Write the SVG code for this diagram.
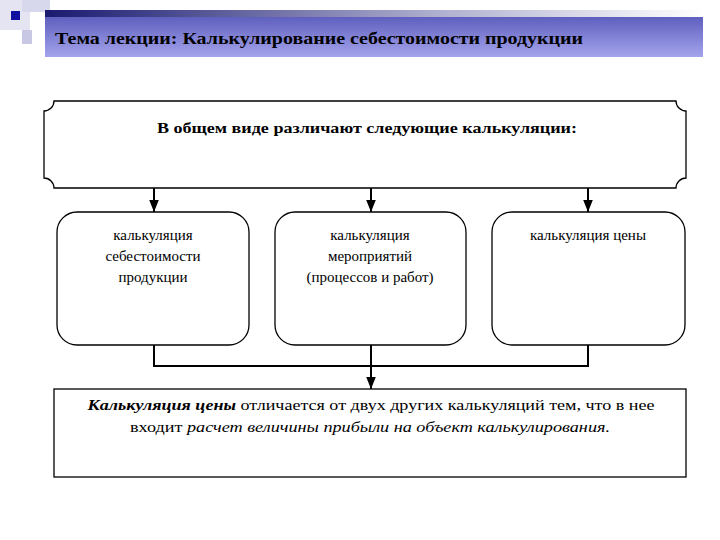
<svg xmlns="http://www.w3.org/2000/svg" width="720" height="540" viewBox="0 0 720 540">
<defs>
<linearGradient id="bar" x1="0" y1="0" x2="0" y2="1"><stop offset="0" stop-color="#5f5fbf"/><stop offset="1" stop-color="#a4a4ec"/></linearGradient>
<linearGradient id="strip" x1="0" y1="0" x2="1" y2="0"><stop offset="0" stop-color="#1a1a70"/><stop offset="0.6" stop-color="#b0b0d0"/><stop offset="1" stop-color="#ffffff"/></linearGradient>
<marker id="ar" viewBox="0 0 10 10" refX="10" refY="5" markerWidth="6" markerHeight="6" orient="auto"><path d="M0,1 L10,5 L0,9 z" fill="#000"/></marker>
</defs>
<style>
.box{fill:#fff;stroke:#000;stroke-width:1.3}
text{font-family:'Liberation Serif','DejaVu Serif',serif}
.t{font-size:15px;text-anchor:middle;fill:#000}
.c{fill:none;stroke:#000;stroke-width:2}
</style>
<rect width="720" height="540" fill="#fff"/>
<g id="header">
<rect x="0" y="0" width="30" height="30" fill="#e4e4f2"/>
<rect x="22" y="0" width="28" height="12" fill="#d8d8ec"/>
<rect x="22" y="30" width="10" height="14" fill="#c8c8e4"/>
<rect x="11" y="11" width="9" height="9" fill="#1010a0"/>
<rect x="45" y="10" width="658" height="7" fill="url(#strip)"/>
<rect x="45" y="17" width="658" height="40" fill="url(#bar)"/>
<text x="55" y="44" font-size="17" font-weight="bold" fill="#000" textLength="528" lengthAdjust="spacingAndGlyphs">Тема лекции: Калькулирование себестоимости продукции</text>
</g>
<g id="top">
<path class="box" d="M54,101 H676 A10,10 0 0 0 686,111 V178 A10,10 0 0 0 676,188 H54 A10,10 0 0 0 44,178 V111 A10,10 0 0 0 54,101 Z"/>
<text class="t" x="367" y="133" font-weight="bold" textLength="420" lengthAdjust="spacingAndGlyphs">В общем виде различают следующие калькуляции:</text>
</g>
<g id="n1"><rect class="box" x="57" y="212" width="192" height="133" rx="20"/>
<text class="t" x="153" y="240">калькуляция</text><text class="t" x="153" y="261">себестоимости</text><text class="t" x="153" y="282">продукции</text></g>
<g id="n2"><rect class="box" x="275" y="212" width="191" height="133" rx="20"/>
<text class="t" x="370" y="240">калькуляция</text><text class="t" x="370" y="261">мероприятий</text><text class="t" x="370" y="282">(процессов и работ)</text></g>
<g id="n3"><rect class="box" x="492" y="212" width="193" height="133" rx="20"/>
<text class="t" x="588" y="240">калькуляция цены</text></g>
<g id="bottom"><rect class="box" x="54" y="389" width="632" height="88"/>
<text class="t" x="371" y="410" textLength="567" lengthAdjust="spacingAndGlyphs"><tspan font-weight="bold" font-style="italic">Калькуляция цены</tspan> отличается от двух других калькуляций тем, что в нее</text>
<text class="t" x="370" y="432" textLength="480" lengthAdjust="spacingAndGlyphs">входит <tspan font-style="italic">расчет величины прибыли на объект калькулирования.</tspan></text></g>
<g id="connectors">
<line class="c" x1="154" y1="188" x2="154" y2="212" marker-end="url(#ar)"/>
<line class="c" x1="371" y1="188" x2="371" y2="212" marker-end="url(#ar)"/>
<line class="c" x1="588" y1="188" x2="588" y2="212" marker-end="url(#ar)"/>
<path class="c" d="M154,345 V366 H588 V345 M371,345 V366"/>
<line class="c" x1="371" y1="366" x2="371" y2="389" marker-end="url(#ar)"/>
</g>
</svg>
